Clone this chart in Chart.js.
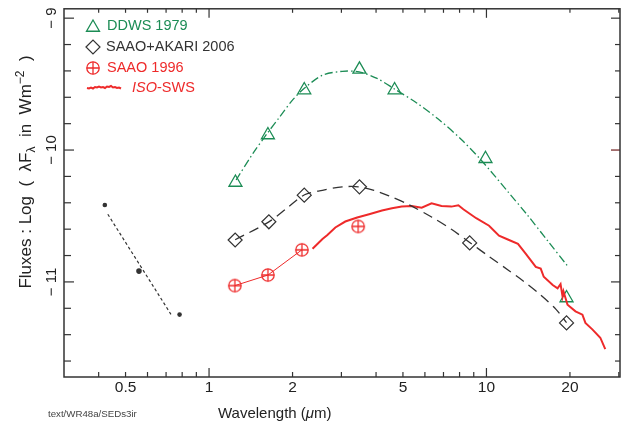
<!DOCTYPE html>
<html><head><meta charset="utf-8">
<script src="https://cdn.jsdelivr.net/npm/chart.js@4/dist/chart.umd.min.js"></script>
<style>html,body{margin:0;padding:0;background:#fff}#wrap{width:634px;height:430px;position:relative}</style>
</head><body><div id="wrap"><canvas id="c" width="634" height="430"></canvas></div>
<script>
// ---------- data (wavelength in micron, log flux) ----------
const ddwsWave = [1.245, 1.63, 2.204, 3.485, 4.665, 9.92, 19.44];
const ddwsFlux = [-10.246, -9.886, -9.545, -9.388, -9.545, -10.066, -11.122];
const ddwsFitWave = [1.252, 1.440, 1.630, 1.799, 2.002, 2.210, 2.564, 3.022, 3.476, 4.033, 4.676, 5.605, 6.718, 8.120, 9.574, 11.96, 14.10, 16.62, 19.60];
const ddwsFitFlux = [-10.227, -10.025, -9.867, -9.748, -9.620, -9.530, -9.433, -9.403, -9.407, -9.457, -9.539, -9.643, -9.767, -9.920, -10.077, -10.317, -10.497, -10.688, -10.879];
const akariWave = [1.242, 1.643, 2.204, 3.485, 8.70, 19.44];
const akariFlux = [-10.682, -10.544, -10.342, -10.279, -10.704, -11.311];
const akariFitWave = [1.242, 1.643, 1.921, 2.210, 2.564, 3.022, 3.476, 3.933, 4.451, 5.247, 6.342, 7.477, 8.676, 10.22, 11.96, 13.53, 15.69, 17.75, 19.44];
const akariFitFlux = [-10.680, -10.545, -10.436, -10.339, -10.305, -10.279, -10.279, -10.306, -10.347, -10.414, -10.508, -10.601, -10.699, -10.807, -10.909, -10.991, -11.100, -11.204, -11.309];
const saaoWave = [1.239, 1.63, 2.161, 3.448];
const saaoFlux = [-11.028, -10.948, -10.757, -10.579];
const isoWave = [2.361, 2.564, 2.671, 2.853, 3.098, 3.420, 3.776, 4.202, 4.564, 4.953, 5.379, 5.842, 6.342, 6.887, 7.478, 7.922, 8.254, 9.187, 10.22, 11.10, 12.06, 12.99, 13.87, 15.06, 15.69, 16.09, 17.33, 18.05, 18.50, 18.81, 18.96, 19.60, 20.94, 22.18, 22.74, 24.08, 25.73, 26.81];
const isoFlux = [-10.749, -10.674, -10.644, -10.587, -10.542, -10.512, -10.487, -10.459, -10.442, -10.429, -10.424, -10.437, -10.404, -10.424, -10.429, -10.419, -10.449, -10.517, -10.574, -10.649, -10.682, -10.712, -10.787, -10.886, -10.899, -10.961, -11.023, -11.049, -11.016, -11.111, -11.073, -11.173, -11.223, -11.248, -11.311, -11.360, -11.423, -11.510];
const optWave = [0.421, 0.559, 0.783];
const optFlux = [-10.417, -10.918, -11.248];
const optLineWave = [0.4316, 0.729];
const optLineFlux = [-10.487, -11.246];

const legendLabels = ['DDWS 1979', 'SAAO+AKARI 2006', 'SAAO 1996', 'ISO-SWS'];
const xTickLabels = [0.5, 1, 2, 5, 10, 20];
const xTickValues = [0.4, 0.5, 0.6, 0.7, 0.8, 0.9, 1, 2, 3, 4, 5, 6, 7, 8, 9, 10, 20, 30];
const xMajorTicks = [1, 10];
const yTickLabels = [-11, -10, -9];
const yTickValues = [-11.6, -11.4, -11.2, -11, -10.8, -10.6, -10.4, -10.2, -10, -9.8, -9.6, -9.4, -9.2, -9];

// ---------- styles ----------
const GREEN = '#1c8c55', RED = '#ee2a2a', DARK = '#333333';
const FONT = '"Liberation Sans", Arial, sans-serif';
const pts = (xs, ys) => xs.map((v, i) => ({x: v, y: ys[i]}));

function circlePlus(r, color) {
  const s = Math.ceil(2 * r + 3), c = document.createElement('canvas');
  c.width = s; c.height = s;
  const g = c.getContext('2d'), m = s / 2;
  g.strokeStyle = color; g.lineWidth = 1.3;
  g.beginPath(); g.arc(m, m, r, 0, Math.PI * 2); g.stroke();
  g.beginPath(); g.moveTo(m - r, m); g.lineTo(m + r, m); g.moveTo(m, m - r); g.lineTo(m, m + r); g.stroke();
  return c;
}
const cpStyle = circlePlus(6.2, RED);

const frameTicks = {
  id: 'frameTicks',
  afterDatasetsDraw(chart) {
    const {ctx, chartArea: a, scales: {x, y}} = chart;
    ctx.save();
    ctx.strokeStyle = DARK; ctx.lineWidth = 1.2;
    const ln = (x1, y1, x2, y2, col) => { ctx.strokeStyle = col || DARK; ctx.beginPath(); ctx.moveTo(x1, y1); ctx.lineTo(x2, y2); ctx.stroke(); };
    xTickValues.forEach(v => {
      const px = x.getPixelForValue(v);
      if (px < a.left + 1 || px > a.right - 1) return;
      const major = xMajorTicks.includes(v);
      ln(px, a.bottom, px, a.bottom - (major ? 9 : 5));
      ln(px, a.top, px, a.top + (major ? 9 : 4));
    });
    yTickValues.forEach(v => {
      const py = y.getPixelForValue(v);
      const major = Math.abs(v - Math.round(v)) < 1e-6;
      ln(a.left, py, a.left + (major ? 10 : 7), py);
      ln(a.right, py, a.right - (major ? 9 : 5), py, (Math.abs(v + 10) < 1e-6) ? '#6e1c1c' : DARK);
    });
    ctx.strokeStyle = DARK; ctx.lineWidth = 1.5;
    ctx.strokeRect(a.left, a.top, a.right - a.left, a.bottom - a.top);
    ctx.restore();
  }
};

const textPlugin = {
  id: 'textPlugin',
  afterDraw(chart) {
    const ctx = chart.ctx;
    ctx.save();
    // legend
    const lx = 93, tx = 107;
    const rows = [26, 47, 68, 88];
    ctx.lineWidth = 1.3;
    ctx.strokeStyle = GREEN;
    const r = 7.5;
    ctx.beginPath();
    for (let k = 0; k < 3; k++) {
      const ang = -Math.PI / 2 + k * 2 * Math.PI / 3;
      const px = lx + r * Math.cos(ang), py = rows[0] + 1.5 + r * Math.sin(ang);
      k ? ctx.lineTo(px, py) : ctx.moveTo(px, py);
    }
    ctx.closePath(); ctx.stroke();
    ctx.strokeStyle = DARK; ctx.lineWidth = 1.2;
    ctx.beginPath(); ctx.moveTo(lx - 7, rows[1]); ctx.lineTo(lx, rows[1] - 7); ctx.lineTo(lx + 7, rows[1]); ctx.lineTo(lx, rows[1] + 7); ctx.closePath(); ctx.stroke();
    ctx.drawImage(cpStyle, lx - cpStyle.width / 2, rows[2] - cpStyle.height / 2);
    ctx.strokeStyle = RED; ctx.lineWidth = 2;
    const wig = [0, 0.5, -0.5, 0.5, -1, -0.5, -1.5, -0.5, -1, 0, -1.5, -1, -2, -0.5, -1, 0, -0.5, 0.5];
    ctx.beginPath();
    wig.forEach((d, i) => { const px = 87 + i * 2, py = rows[3] + d; i ? ctx.lineTo(px, py) : ctx.moveTo(px, py); });
    ctx.stroke();
    ctx.font = '14.5px ' + FONT; ctx.textBaseline = 'middle'; ctx.textAlign = 'left';
    ctx.fillStyle = GREEN; ctx.fillText(legendLabels[0], tx, rows[0]);
    ctx.fillStyle = DARK; ctx.fillText(legendLabels[1], tx - 1, rows[1]);
    ctx.fillStyle = RED; ctx.fillText(legendLabels[2], tx, rows[2]);
    const [isoA, isoB] = [legendLabels[3].slice(0, 3), legendLabels[3].slice(3)];
    ctx.font = 'italic 14.5px ' + FONT; ctx.fillText(isoA, 132, rows[3]);
    const wA = ctx.measureText(isoA).width;
    ctx.font = '14.5px ' + FONT; ctx.fillText(isoB, 132 + wA, rows[3]);

    // x title
    ctx.fillStyle = '#222'; ctx.textBaseline = 'alphabetic';
    ctx.font = '15px ' + FONT;
    let xp = 218;
    const p1 = 'Wavelength (';
    ctx.fillText(p1, xp, 418); xp += ctx.measureText(p1).width;
    ctx.font = 'italic 15px ' + FONT; ctx.fillText('\u03BC', xp, 418); xp += ctx.measureText('\u03BC').width;
    ctx.font = '15px ' + FONT; ctx.fillText('m)', xp, 418);

    // file label
    ctx.fillStyle = '#444'; ctx.font = '9.7px ' + FONT;
    ctx.fillText('text/WR48a/SEDs3ir', 48, 417);

    // y title
    ctx.save();
    ctx.translate(31, 172);
    ctx.rotate(-Math.PI / 2);
    ctx.fillStyle = '#222';
    const big = '17px ' + FONT, small = '12px ' + FONT;
    const pieces = [
      {t: 'Fluxes : Log  (  \u03BBF', f: big, dy: 0},
      {t: '\u03BB', f: small, dy: 4},
      {t: '  in  Wm', f: big, dy: 0},
      {t: '\u22122', f: small, dy: -7},
      {t: '  )', f: big, dy: 0}
    ];
    let total = 0;
    pieces.forEach(p => { ctx.font = p.f; p.w = ctx.measureText(p.t).width; total += p.w; });
    let cx = -total / 2;
    pieces.forEach(p => { ctx.font = p.f; ctx.fillText(p.t, cx, p.dy); cx += p.w; });
    ctx.restore();
    ctx.restore();
  }
};

new Chart(document.getElementById('c'), {
  type: 'scatter',
  data: {
    datasets: [
      {label: 'opt line', data: pts(optLineWave, optLineFlux), showLine: true, borderColor: DARK, borderWidth: 1.2, borderDash: [3, 2.5], pointRadius: 0},
      {label: 'opt', data: pts(optWave, optFlux), pointRadius: [2.3, 2.8, 2.3], pointBackgroundColor: DARK, pointBorderWidth: 0},
      {label: 'DDWS fit', data: pts(ddwsFitWave, ddwsFitFlux), showLine: true, borderColor: GREEN, borderWidth: 1.3, borderDash: [8, 3, 1.5, 3], pointRadius: 0, tension: 0.3},
      {label: 'AKARI fit', data: pts(akariFitWave, akariFitFlux), showLine: true, borderColor: DARK, borderWidth: 1.3, borderDash: [10, 6], pointRadius: 0, tension: 0.3},
      {label: legendLabels[3], data: pts(isoWave, isoFlux), showLine: true, borderColor: RED, borderWidth: 2, pointRadius: 0, tension: 0},
      {label: legendLabels[2], data: pts(saaoWave, saaoFlux), showLine: true, borderColor: RED, borderWidth: 1,
        segment: {borderColor: c => c.p1DataIndex === saaoWave.length - 1 ? 'rgba(0,0,0,0)' : RED},
        pointStyle: cpStyle, pointRadius: 7},
      {label: legendLabels[1], data: pts(akariWave, akariFlux), pointStyle: 'rectRot', pointRadius: 7, pointBorderColor: DARK, pointBackgroundColor: 'rgba(0,0,0,0)', pointBorderWidth: 1.2},
      {label: legendLabels[0], data: pts(ddwsWave, ddwsFlux), pointStyle: 'triangle', pointRadius: 7.5, pointBorderColor: GREEN, pointBackgroundColor: 'rgba(0,0,0,0)', pointBorderWidth: 1.3}
    ]
  },
  options: {
    responsive: false, animation: false,
    layout: {padding: {left: 0, right: 14, top: 5, bottom: 0}},
    plugins: {legend: {display: false}, tooltip: {enabled: false}},
    scales: {
      x: {
        type: 'logarithmic', min: 0.311, max: 30.3,
        grid: {display: false, drawTicks: false}, border: {display: false},
        afterBuildTicks: s => { s.ticks = xTickLabels.map(v => ({value: v})); },
        afterFit: s => { s.height = 53; s.paddingLeft = 0; s.paddingRight = 0; },
        ticks: {color: '#222', font: {family: FONT, size: 15.5}, padding: 1, autoSkip: false, maxRotation: 0, callback: v => String(v)}
      },
      y: {
        type: 'linear', min: -11.721, max: -8.929,
        grid: {display: false, drawTicks: false}, border: {display: false},
        afterBuildTicks: s => { s.ticks = yTickLabels.map(v => ({value: v})); },
        afterFit: s => { s.width = 64; s.paddingTop = 0; s.paddingBottom = 0; },
        ticks: {color: '#222', font: {family: FONT, size: 15}, padding: -3, minRotation: 90, maxRotation: 90, crossAlign: 'center', autoSkip: false,
          callback: v => '\u2212 ' + Math.abs(v)}
      }
    }
  },
  plugins: [frameTicks, textPlugin]
});
</script></body></html>
